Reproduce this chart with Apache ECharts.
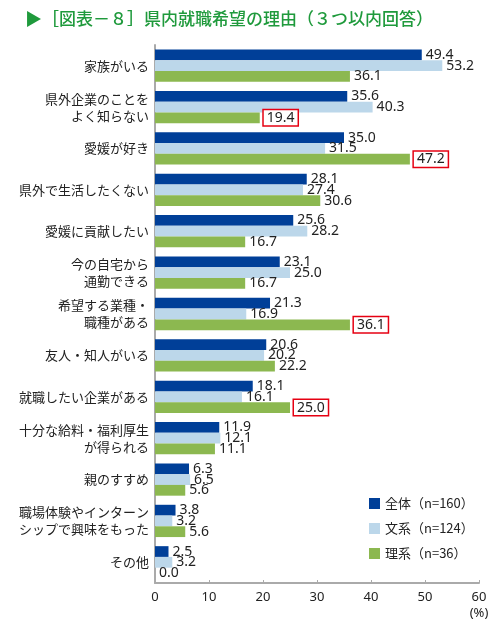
<!DOCTYPE html>
<html>
<head>
<meta charset="utf-8">
<script src="https://cdn.jsdelivr.net/npm/echarts@6/dist/echarts.min.js"></script>
<style>
html, body { margin: 0; padding: 0; background: #fff; }
#chart { width: 500px; height: 622px; }
</style>
</head>
<body>
<div id="chart"></div>
<script>
const categories = [
    '家族がいる',
    '県外企業のことを\nよく知らない',
    '愛媛が好き',
    '県外で生活したくない',
    '愛媛に貢献したい',
    '今の自宅から\n通勤できる',
    '希望する業種・\n職種がある',
    '友人・知人がいる',
    '就職したい企業がある',
    '十分な給料・福利厚生\nが得られる',
    '親のすすめ',
    '職場体験やインターン\nシップで興味をもった',
    'その他'
];
const seriesNames = ['全体（n=160）', '文系（n=124）', '理系（n=36）'];
const allValues = [49.4, 35.6, 35.0, 28.1, 25.6, 23.1, 21.3, 20.6, 18.1, 11.9, 6.3, 3.8, 2.5];
const bunkeiValues = [53.2, 40.3, 31.5, 27.4, 28.2, 25.0, 16.9, 20.2, 16.1, 12.1, 6.5, 3.2, 3.2];
const rikeiValues = [36.1, 19.4, 47.2, 30.6, 16.7, 16.7, 36.1, 22.2, 25.0, 11.1, 5.6, 5.6, 0.0];
// 理系で枠囲みされている項目
const boxedRikei = [1, 2, 6, 8];

const colors = ['#003f98', '#bcd7ea', '#8cb850'];

const chart = echarts.init(document.getElementById('chart'));

const baseLabel = {
    show: true,
    position: 'right',
    distance: 4,
    color: '#222',
    fontSize: 14,
    fontFamily: 'Noto Sans',
    formatter: p => p.value.toFixed(1)
};

function makeData(values, boxed) {
    return values.map((v, i) => {
        if (boxed && boxed.indexOf(i) >= 0) {
            return {
                value: v,
                label: {
                    borderColor: '#e60012',
                    borderWidth: 1.5,
                    backgroundColor: '#fff',
                    padding: [1, 3, 0, 3]
                }
            };
        }
        return v;
    });
}

chart.setOption({
    animation: false,
    color: colors,
    title: {
        text: '▶［図表－８］県内就職希望の理由（３つ以内回答）',
        left: 20,
        top: 5,
        textStyle: {
            color: '#1f9a3c',
            fontSize: 17,
            fontWeight: 500,
            fontFamily: 'Noto Sans CJK JP'
        }
    },
    legend: {
        orient: 'vertical',
        left: 364,
        top: 492,
        itemWidth: 11,
        itemHeight: 11,
        itemGap: 12,
        icon: 'rect',
        textStyle: {
            fontSize: 13,
            color: '#222',
            fontFamily: 'Noto Sans CJK JP'
        },
        data: seriesNames
    },
    grid: {
        left: 155,
        right: 21,
        top: 45,
        bottom: 39,
        containLabel: false
    },
    xAxis: {
        type: 'value',
        min: 0,
        max: 60,
        interval: 10,
        axisLine: { show: true, lineStyle: { color: '#aaa', width: 2 } },
        axisTick: { show: true, inside: true, length: 3, lineStyle: { color: '#aaa' } },
        splitLine: { show: false },
        axisLabel: {
            color: '#222',
            fontSize: 13,
            margin: 6,
            fontFamily: 'Noto Sans',
            formatter: v => (v === 60 ? '60\n(%)' : String(v)),
            lineHeight: 16
        }
    },
    yAxis: {
        type: 'category',
        inverse: true,
        data: categories,
        axisLine: { show: true, lineStyle: { color: '#aaa', width: 2 } },
        axisTick: { show: false },
        axisLabel: {
            color: '#222',
            fontSize: 13,
            margin: 6,
            lineHeight: 17,
            fontFamily: 'Noto Sans CJK JP'
        }
    },
    series: [
        {
            name: seriesNames[0],
            type: 'bar',
            data: makeData(allValues),
            barGap: '0%',
            barCategoryGap: '22%',
            label: baseLabel
        },
        {
            name: seriesNames[1],
            type: 'bar',
            data: makeData(bunkeiValues),
            label: baseLabel
        },
        {
            name: seriesNames[2],
            type: 'bar',
            data: makeData(rikeiValues, boxedRikei),
            label: baseLabel
        }
    ]
});
</script>
</body>
</html>
